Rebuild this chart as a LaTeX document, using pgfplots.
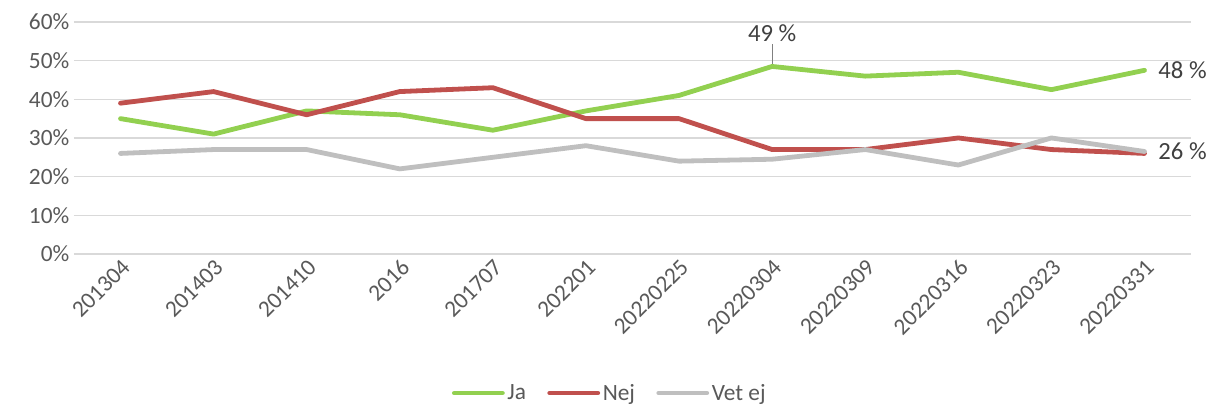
\documentclass[border=0pt]{standalone}
\usepackage{pgfplots}
\pgfplotsset{compat=1.18}
\usepackage{fontspec}
\setmainfont{Carlito}
\definecolor{ja}{HTML}{92D050}
\definecolor{nej}{HTML}{C0504D}
\definecolor{vet}{HTML}{BFBFBF}
\definecolor{gridc}{HTML}{D9D9D9}
\definecolor{tickc}{HTML}{595959}
\definecolor{labc}{HTML}{404040}
\newcommand{\tf}{\fontsize{17.5}{20}\selectfont}
\newcommand{\lf}{\fontsize{18.5}{21}\selectfont}
\begin{document}
\begin{tikzpicture}
\begin{axis}[
  scale only axis,
  width=838pt, height=174pt,
  xmin=-0.5, xmax=11.5, ymin=0, ymax=60,
  ytick={0,10,...,60},
  yticklabel={\pgfmathprintnumber{\tick}\%},
  /pgf/number format/assume math mode=true,
  xtick={0,...,11},
  xticklabels={201304,201403,201410,2016,201707,202201,20220225,20220304,20220309,20220316,20220323,20220331},
  xticklabel style={rotate=45, anchor=north east, font=\tf, text=tickc, inner sep=2pt},
  yticklabel style={font=\tf, text=tickc},
  ymajorgrids, grid style={gridc, line width=0.9pt},
  axis line style={draw=none},
  major tick length=0pt,
  clip=false,
  every axis plot/.append style={line width=3.6pt, line cap=round, line join=round},
  legend style={at={(0.48,-0.6)}, anchor=center, draw=none, font=\tf, text=tickc, inner sep=1pt,
    /tikz/every even column/.append style={column sep=14pt}},
  legend columns=-1,
  legend image code/.code={\draw[#1, line width=3.6pt, line cap=round] (0pt,0pt) -- (36pt,0pt);},
]
\addplot[ja] coordinates {(0,35) (1,31) (2,37) (3,36) (4,32) (5,37) (6,41) (7,48.5) (8,46) (9,47) (10,42.5) (11,47.5)};
\addlegendentry{Ja}
\addplot[nej] coordinates {(0,39) (1,42) (2,36) (3,42) (4,43) (5,35) (6,35) (7,27) (8,27) (9,30) (10,27) (11,26)};
\addlegendentry{Nej}
\addplot[vet] coordinates {(0,26) (1,27) (2,27) (3,22) (4,25) (5,28) (6,24) (7,24.5) (8,27) (9,23) (10,30) (11,26.5)};
\addlegendentry{Vet ej}
\draw[gray, line width=0.7pt] (axis cs:7,49.2) -- (axis cs:7,54.2);
\node[font=\lf, text=labc, anchor=south, inner sep=2pt] at (axis cs:7,54.2) {49 \%};
\node[font=\lf, text=labc, anchor=west] at (axis cs:11.1,47.5) {48 \%};
\node[font=\lf, text=labc, anchor=west] at (axis cs:11.1,26.5) {26 \%};
\coordinate (sw) at (axis cs:-0.5,0);
\coordinate (ne) at (axis cs:11.5,60);
\end{axis}
\pgfresetboundingbox
\path ([shift={(-55.5pt,-117pt)}]sw) rectangle ([shift={(21.75pt,16.5pt)}]ne);
\end{tikzpicture}
\end{document}
